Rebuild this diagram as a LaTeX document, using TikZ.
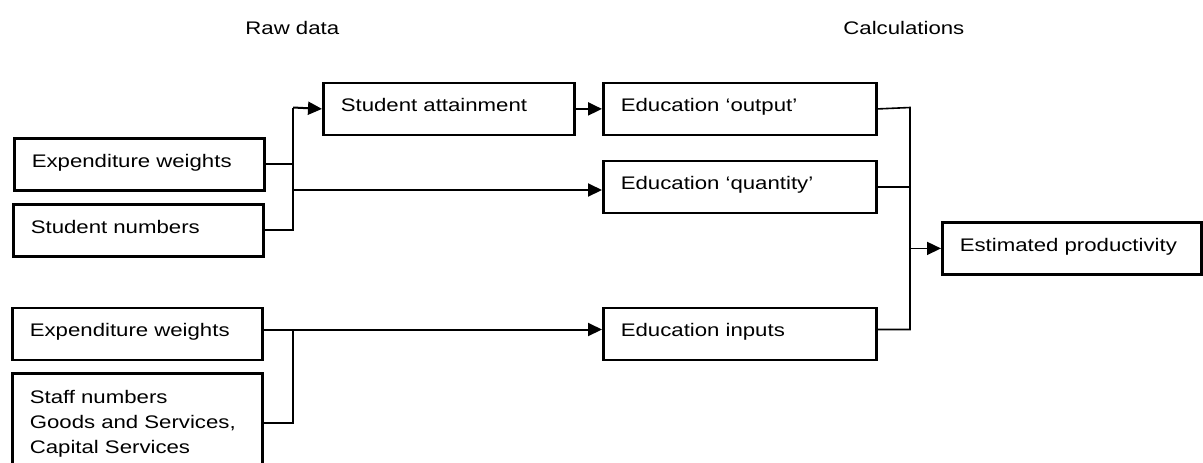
\documentclass[tikz,border=0pt]{standalone}
\usepackage{fontspec}
\setmainfont{Liberation Sans}[FakeStretch=1.22]
\usetikzlibrary{arrows.meta}
\begin{document}
\begin{tikzpicture}[x=0.5pt,y=-0.5pt,
  every node/.style={font=\fontsize{9.1pt}{12.5pt}\selectfont},
  box/.style={draw, line width=1.4pt, rectangle, anchor=north west,
    inner xsep=8.7pt, inner ysep=0pt, text height=14.3pt, text depth=11.7pt,
    align=left, text width=#1},
  title/.style={anchor=base west, inner sep=0pt},
  link/.style={line width=1pt, line join=miter},
  thin link/.style={line width=0.8pt, line join=miter},
  arr/.style={-{Triangle[length=7pt,width=6.5pt]}}]
\useasboundingbox (0,0) rectangle (1203,462);
\clip (0,0) rectangle (1203,462);

% column headings
\node[title] (hraw) at (245,34.5) {Raw data};
\node[title] (hcalc) at (843,34.5) {Calculations};

% raw data boxes
\node[box=107.6pt] (ew1) at (13,137) {Expenditure weights};
\node[box=107.6pt] (sn) at (12,203) {Student numbers};
\node[box=107.6pt] (ew2) at (11,306.5) {Expenditure weights};
\node[box=107.6pt, text height=14.85pt, text depth=60pt] (staff) at (11,372)
  {Staff numbers\\Goods and Services,\\Capital Services};

% calculation boxes
\node[box=108.2pt] (sa) at (322,81.5) {Student attainment};
\node[box=119.2pt] (eo) at (602,81.5) {Education ‘output’};
\node[box=119.2pt] (eq) at (602,159.5) {Education ‘quantity’};
\node[box=119.2pt] (ei) at (602,306.5) {Education inputs};
\node[box=112.2pt] (ep) at (941,221) {Estimated productivity};

% junction points
\coordinate (jtop) at (293,107.5);
\coordinate (jq) at (293,190);
\coordinate (jin) at (293,329.5);
\coordinate (rtop) at (910,107.5);
\coordinate (rin) at (910,329.5);

% student side
\draw[link] (ew1.east) -- (ew1.east -| jtop);
\draw[link] (sn.east) -- (sn.east -| jtop) -- (jtop);
\draw[link, arr] (jtop) -- (sa.west);
\draw[link, arr] (jq) -- (eq.west |- jq);
\draw[link, arr] (sa.east) -- (eo.west);

% input side
\draw[link, arr] (ew2.east |- jin) -- (ei.west |- jin);
\coordinate (sline) at (293,423);
\draw[link] (staff.east |- sline) -- (sline) -- (jin);

% combining into productivity
\draw[thin link] (eo.east) -- (rtop) -- (rin) -- (ei.east |- rin);
\draw[thin link] (eq.east) -- (eq.east -| rtop);
\draw[thin link, arr] (ep.west -| rtop) -- (ep.west);
\end{tikzpicture}
\end{document}
